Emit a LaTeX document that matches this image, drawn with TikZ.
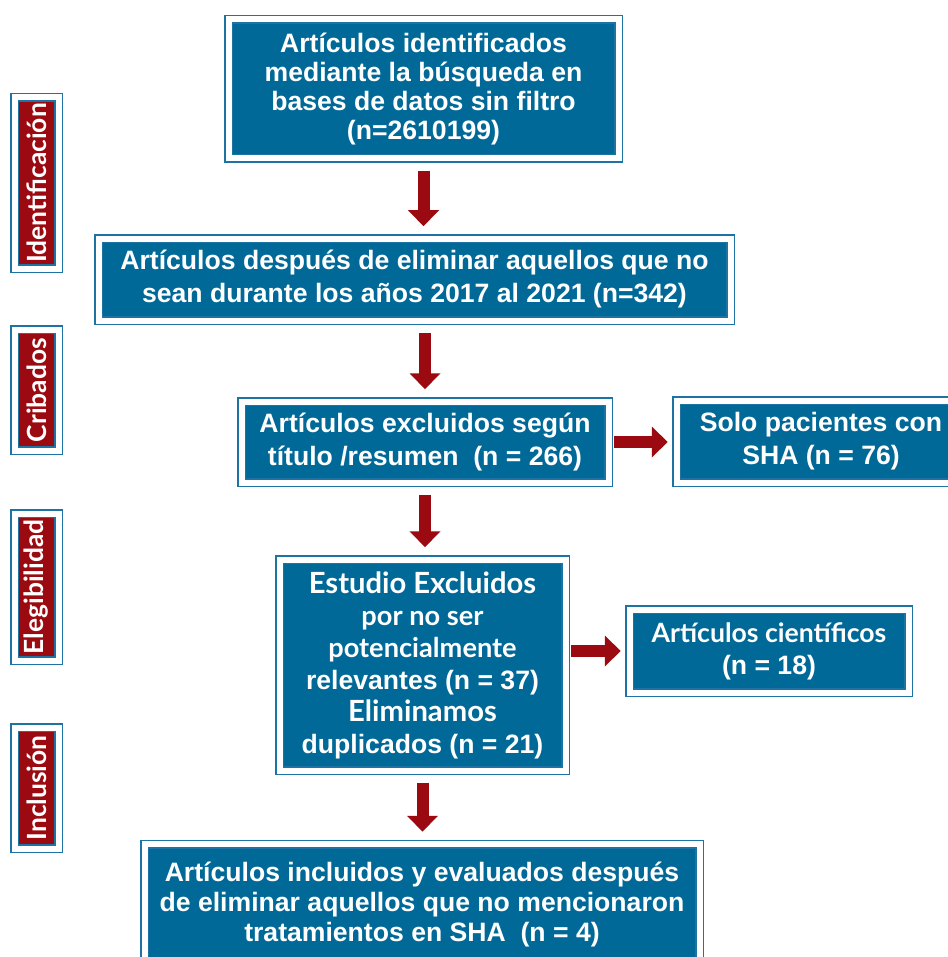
\documentclass[tikz,border=0pt]{standalone}
\usepackage{fontspec}
\setmainfont{Liberation Sans}
\newfontfamily\gill{Lato}
\usetikzlibrary{arrows.meta}
\definecolor{cajaazul}{RGB}{0,105,152}
\definecolor{bordeazul}{RGB}{30,115,165}
\definecolor{rojo}{RGB}{155,10,16}

\tikzset{
  caja/.style={draw=bordeazul, double=white, double distance=3pt, line width=0.75pt,
    fill=cajaazul, text=white, align=center, inner sep=0pt,
    font=\bfseries\fontsize{13.3}{16.5}\selectfont},
  etiqueta/.style={caja, fill=rojo, rotate=90, minimum height=22pt,
    font=\gill\bfseries\fontsize{13.2}{14}\selectfont},
  flecha/.style={draw=rojo, line width=6pt, -{Triangle[width=15pt,length=8pt]},
    shorten <=5.75pt, shorten >=5.75pt},
  flechalado/.style={flecha, shorten <=2.25pt, shorten >=4pt}
}

\begin{document}
\begin{tikzpicture}[x=0.5pt,y=-0.5pt]
            \useasboundingbox (0,0) rectangle (947,957);

            \node[etiqueta, minimum width=85.5pt] (ident) at (36.5,183) {Identificación};
            \node[etiqueta, minimum width=60.5pt] (crib) at (36.5,390) {Cribados};
            \node[etiqueta, minimum width=73.5pt] (eleg) at (36.5,587) {Elegibilidad};
            \node[etiqueta, minimum width=60.5pt] (incl) at (36.5,788) {Inclusión};

            \node[caja, minimum width=195pt, minimum height=69.5pt, font=\bfseries\fontsize{13.3}{14.5}\selectfont] (identificados) at (423.5,89) {Artículos identificados\\mediante la búsqueda en\\bases de datos sin filtro\\(n=2610199)};
            \node[caja, minimum width=316pt, minimum height=41pt] (periodo) at (414.5,279.5) {Artículos después de eliminar aquellos que no\\sean durante los años 2017 al 2021 (n=342)};
            \node[caja, minimum width=183.5pt, minimum height=40.5pt] (titulo) at (425,442) {Artículos excluidos según\\título /resumen~~(n = 266)};
            \node[caja, minimum width=144.5pt, minimum height=41pt] (sha) at (821,441.5) {Solo pacientes con\\SHA (n = 76)};
            \node[caja, minimum width=143pt, minimum height=105.5pt, font=\bfseries\fontsize{13.3}{16}\selectfont] (excluidos) at (422.5,665) {{\gill\fontsize{14.6}{16}\selectfont Estudio Excluidos}\\{\gill\fontsize{13.6}{16}\selectfont por no ser}\\{\gill\fontsize{13.6}{16}\selectfont potencialmente}\\relevantes (n = 37)\\{\gill\fontsize{14.6}{16}\selectfont Eliminamos}\\duplicados (n = 21)};
            \node[caja, minimum width=139.5pt, minimum height=41.5pt, font=\bfseries\fontsize{13.3}{16}\selectfont] (cientificos) at (769,651) {{\gill Artículos científicos}\\(n = 18)};
            \node[caja, minimum width=277.5pt, minimum height=60pt, font=\bfseries\fontsize{13.3}{15}\selectfont] (incluidos) at (422,904) {Artículos incluidos y evaluados después\\de eliminar aquellos que no mencionaron\\tratamientos en SHA~~(n = 4)};

            \draw[flecha] (identificados.south) -- (identificados.south |- periodo.north);
            \draw[flecha] (titulo.north |- periodo.south) -- (titulo.north);
            \draw[flecha] (titulo.south) -- (titulo.south |- excluidos.north);
            \draw[flecha] (excluidos.south) -- (excluidos.south |- incluidos.north);
            \draw[flechalado] (titulo.east) -- (titulo.east -| sha.west);
            \draw[flechalado] (cientificos.west -| excluidos.east) -- (cientificos.west);

        \end{tikzpicture}
\end{document}
